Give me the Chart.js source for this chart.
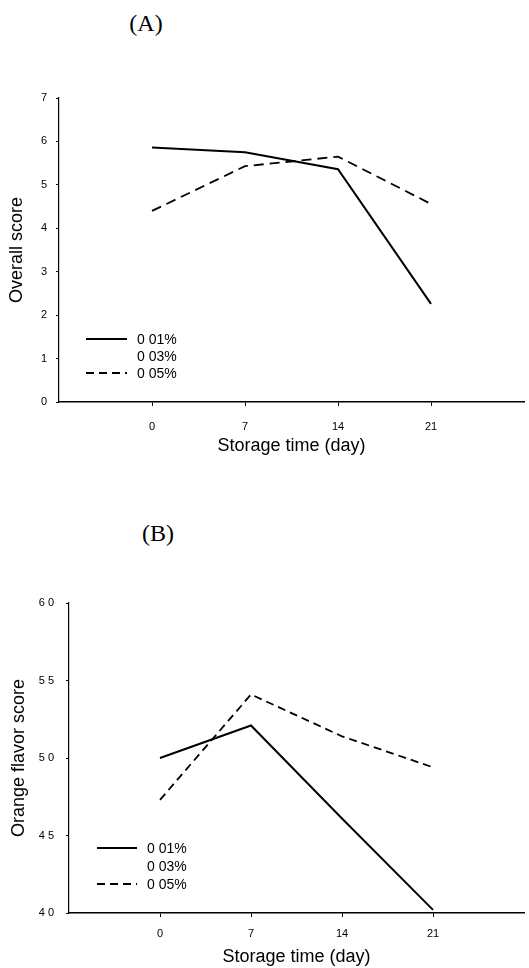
<!DOCTYPE html>
<html>
<head>
<meta charset="utf-8">
<script src="https://cdn.jsdelivr.net/npm/chart.js@4/dist/chart.umd.min.js"></script>
<style>
  html, body { margin: 0; padding: 0; background: #fff; }
  body { width: 529px; height: 968px; position: relative; overflow: hidden; font-family: Arial, "Liberation Sans", sans-serif; }
  canvas { position: absolute; left: 0; }
  .panel { position: absolute; font-family: "Liberation Serif", "Times New Roman", serif; font-size: 24px; color: #000; transform: translate(-50%, -50%); white-space: nowrap; }
  .leg { position: absolute; left: 0; top: 0; font-size: 14px; color: #000; line-height: 1; }
  .leg svg { position: absolute; }
  .leg span { position: absolute; transform: translateY(-50%); white-space: nowrap; }
</style>
</head>
<body>
<div class="panel" style="left:146px; top:23px;">(A)</div>
<div class="panel" style="left:158px; top:533px;">(B)</div>
<canvas id="cA" width="529" height="470" style="top:0px;"></canvas>
<canvas id="cB" width="529" height="488" style="top:480px;"></canvas>
<div id="legA" class="leg"></div>
<div id="legB" class="leg"></div>
<script>
// ---- data ----
const storageDays = [0, 7, 14, 21];
const xTickValues = [0, 7, 14, 21];
const seriesNames = ['0 01%', '0 03%', '0 05%'];

// (A) Overall score
const overall001 = [5.86, 5.75, 5.36, 2.26];
const overall005 = [4.40, 5.43, 5.65, 4.56];
const yTicksA = ['0', '1', '2', '3', '4', '5', '6', '7'];

// (B) Orange flavor score
const flavor001 = [5.00, 5.21, 4.61, 4.02];
const flavor005 = [4.73, 5.41, 5.14, 4.94];
const yTicksB = ['4 0', '4 5', '5 0', '5 5', '6 0'];

const toXY = arr => arr.map((v, i) => ({x: storageDays[i], y: v}));

function makeChart(id, cfg) {
  const tickFont = {family: 'Arial, "Liberation Sans", sans-serif', size: 11};
  const titleFont = {family: 'Arial, "Liberation Sans", sans-serif', size: 18};
  return new Chart(document.getElementById(id), {
    type: 'line',
    data: {
      datasets: [
        {label: seriesNames[0], data: toXY(cfg.s1), borderColor: '#000', borderWidth: 2, pointRadius: 0, tension: 0, fill: false},
        {label: seriesNames[2], data: toXY(cfg.s3), borderColor: '#000', borderWidth: 1.8, borderDash: cfg.dash, pointRadius: 0, tension: 0, fill: false}
      ]
    },
    options: {
      responsive: false,
      animation: false,
      devicePixelRatio: 1,
      layout: {padding: {top: cfg.padTop, right: 5, left: 0, bottom: 0}},
      plugins: {legend: {display: false}, tooltip: {enabled: false}},
      scales: {
        x: {
          type: 'linear', min: -7, max: 28,
          afterBuildTicks: s => { s.ticks = xTickValues.map(v => ({value: v})); },
          afterFit: s => { s.height = cfg.xH; },
          ticks: {color: '#000', font: tickFont, padding: cfg.xTickPad, maxRotation: 0, autoSkip: false},
          grid: {display: true, drawOnChartArea: false, drawTicks: true, tickLength: 4, color: '#000', lineWidth: 1},
          border: {display: true, color: '#000', width: 1.5},
          title: {display: true, text: 'Storage time (day)', color: '#000', font: titleFont, padding: {top: 0, bottom: cfg.xTitlePad}}
        },
        y: {
          min: cfg.yMin, max: cfg.yMax,
          afterBuildTicks: s => { s.ticks = cfg.yTickVals.map(v => ({value: v})); },
          afterFit: s => { s.width = cfg.yW; },
          ticks: {color: '#000', font: tickFont, padding: cfg.yTickPad, autoSkip: false,
                  callback: (v, i) => cfg.yLabels[i]},
          grid: {display: true, drawOnChartArea: false, drawTicks: true, tickLength: 3, color: '#000', lineWidth: 1},
          border: {display: true, color: '#000', width: 1.2},
          title: {display: true, text: cfg.yTitle, color: '#000', font: titleFont, padding: {top: cfg.yTitlePad, bottom: 0}}
        }
      }
    }
  });
}

makeChart('cA', {
  s1: overall001, s3: overall005, dash: [10, 6],
  padTop: 98, xH: 68, yW: 59, xTickPad: 14, xTitlePad: 13, yTickPad: 9, yTitlePad: 6,
  yMin: 0, yMax: 7, yTickVals: [0, 1, 2, 3, 4, 5, 6, 7], yLabels: yTicksA, yTitle: 'Overall score'
});

makeChart('cB', {
  s1: flavor001, s3: flavor005, dash: [8, 5],
  padTop: 123, xH: 55, yW: 69, xTickPad: 10, xTitlePad: 0, yTickPad: 12, yTitlePad: 8,
  yMin: 4, yMax: 6, yTickVals: [4, 4.5, 5, 5.5, 6], yLabels: yTicksB, yTitle: 'Orange flavor score'
});

// legends (HTML)
function buildLegend(id, x0, lineW, textX, rows) {
  const el = document.getElementById(id);
  const styles = [null, 'none', '8,5'];
  seriesNames.forEach((name, i) => {
    const y = rows[i];
    if (styles[i] !== 'none') {
      const svg = document.createElementNS('http://www.w3.org/2000/svg', 'svg');
      svg.setAttribute('width', lineW); svg.setAttribute('height', 4);
      svg.style.left = x0 + 'px'; svg.style.top = (y - 2) + 'px';
      const ln = document.createElementNS('http://www.w3.org/2000/svg', 'line');
      ln.setAttribute('x1', 0); ln.setAttribute('y1', 2); ln.setAttribute('x2', lineW); ln.setAttribute('y2', 2);
      ln.setAttribute('stroke', '#000'); ln.setAttribute('stroke-width', 2);
      if (styles[i]) ln.setAttribute('stroke-dasharray', styles[i]);
      svg.appendChild(ln);
      el.appendChild(svg);
    }
    const sp = document.createElement('span');
    sp.textContent = name;
    sp.style.left = textX + 'px'; sp.style.top = y + 'px';
    el.appendChild(sp);
  });
}
buildLegend('legA', 86, 41, 137, [339, 356, 373]);
buildLegend('legB', 97, 40, 147, [848, 866, 884]);
</script>
</body>
</html>
